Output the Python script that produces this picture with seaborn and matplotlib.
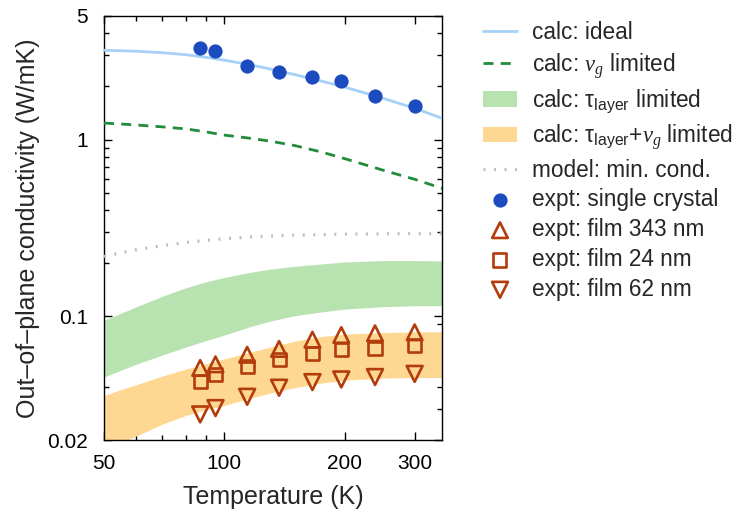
import matplotlib
matplotlib.use("Agg")
import matplotlib.pyplot as plt
import matplotlib.ticker as mticker
import seaborn as sns
import numpy as np

# ---------------- data ----------------
T_calc = [50, 55, 60, 70, 80, 90, 100, 115, 130, 150, 175, 200, 250, 300, 350]
k_ideal = [3.20, 3.18, 3.16, 3.10, 3.02, 2.92, 2.81, 2.66, 2.51, 2.33, 2.14, 1.98, 1.71, 1.50, 1.32]
k_vg = [1.24, 1.225, 1.21, 1.18, 1.15, 1.105, 1.06, 1.02, 0.98, 0.925, 0.85, 0.78, 0.67, 0.595, 0.53]
k_min = [0.218, 0.229, 0.238, 0.251, 0.262, 0.269, 0.275, 0.281, 0.285, 0.288, 0.290, 0.292, 0.293, 0.294, 0.294]
k_layer_hi = [0.095, 0.104, 0.113, 0.130, 0.145, 0.157, 0.166, 0.177, 0.185, 0.192, 0.198, 0.203, 0.207, 0.207, 0.206]
k_layer_lo = [0.0454, 0.0495, 0.0535, 0.0605, 0.067, 0.073, 0.0785, 0.087, 0.094, 0.101, 0.106, 0.110, 0.1135, 0.115, 0.115]
k_both_hi = [0.0357, 0.0385, 0.041, 0.046, 0.0503, 0.054, 0.0575, 0.0625, 0.067, 0.0725, 0.077, 0.0795, 0.081, 0.0818, 0.0818]
k_both_lo = [0.0174, 0.0192, 0.021, 0.0246, 0.0275, 0.0297, 0.0314, 0.0343, 0.0368, 0.0395, 0.0420, 0.0436, 0.0448, 0.0451, 0.0451]

T_expt = [87, 95, 114, 137, 166, 196, 238, 299]
k_crystal = [3.29, 3.15, 2.61, 2.42, 2.26, 2.14, 1.76, 1.55]
k_film343 = [0.0511, 0.0536, 0.0607, 0.0655, 0.0739, 0.0785, 0.0803, 0.0813]
k_film24 = [0.0430, 0.0471, 0.0521, 0.0570, 0.0620, 0.0649, 0.0661, 0.0683]
k_film62 = [0.0279, 0.0303, 0.0351, 0.0395, 0.0425, 0.0440, 0.0454, 0.0473]

x_ticks = [50, 100, 200, 300]
x_minor = [60, 70, 80, 90]
y_ticks = [0.02, 0.1, 1, 5]
y_tick_labels = ["0.02", "0.1", "1", "5"]

# ---------------- style ----------------
sns.set_style("ticks")
plt.rcParams["font.family"] = ["Liberation Sans", "DejaVu Sans"]
plt.rcParams["mathtext.fontset"] = "custom"
plt.rcParams["mathtext.rm"] = "Liberation Sans"
plt.rcParams["mathtext.it"] = "Liberation Serif:italic"
plt.rcParams["mathtext.bf"] = "Liberation Sans:bold"

c_ideal = "#a6d0f7"
c_vg = "#218c3c"
c_layer = "#b8e2b0"
c_both = "#fed893"
c_min = "#bdbdbd"
c_crys = "#1c4abf"
c_film = "#b23c0a"

fig = plt.figure(figsize=(7.42, 5.16), dpi=100)
ax = fig.add_axes([104 / 742, 76 / 516, 338 / 742, 424 / 516])

ax.fill_between(T_calc, k_layer_lo, k_layer_hi, color=c_layer, lw=0,
                label=r"calc: τ$_{\mathrm{layer}}$ limited", zorder=1)
ax.fill_between(T_calc, k_both_lo, k_both_hi, color=c_both, lw=0,
                label=r"calc: τ$_{\mathrm{layer}}$+$v_g$ limited", zorder=1)

sns.lineplot(x=T_calc, y=k_ideal, ax=ax, color=c_ideal, lw=2.0,
             label="calc: ideal", zorder=3)
sns.lineplot(x=T_calc, y=k_vg, ax=ax, color=c_vg, lw=2.0,
             linestyle=(0, (3.6, 2.6)), label=r"calc: $v_g$ limited", zorder=3)
sns.lineplot(x=T_calc, y=k_min, ax=ax, color=c_min, lw=2.3,
             linestyle=(0, (0.6, 2.7)), label="model: min. cond.", zorder=3)

sns.scatterplot(x=T_expt, y=k_crystal, ax=ax, color=c_crys, s=105,
                linewidth=0, marker="o", label="expt: single crystal", zorder=5)
sns.scatterplot(x=T_expt, y=k_film343, ax=ax, marker="^", s=125,
                facecolor="none", edgecolor=c_film, linewidth=1.9,
                label="expt: film 343 nm", zorder=5)
sns.scatterplot(x=T_expt, y=k_film24, ax=ax, marker="s", s=88,
                facecolor="none", edgecolor=c_film, linewidth=1.9,
                label="expt: film 24 nm", zorder=5)
sns.scatterplot(x=T_expt, y=k_film62, ax=ax, marker="v", s=130,
                facecolor="none", edgecolor=c_film, linewidth=1.9,
                label="expt: film 62 nm", zorder=5)

ax.set_xscale("log")
ax.set_yscale("log")
ax.set_xlim(50, 350)
ax.set_ylim(0.02, 5)

ax.xaxis.set_major_locator(mticker.FixedLocator(x_ticks))
ax.xaxis.set_minor_locator(mticker.FixedLocator(x_minor))
ax.xaxis.set_major_formatter(mticker.FixedFormatter([str(v) for v in x_ticks]))
ax.xaxis.set_minor_formatter(mticker.NullFormatter())
ax.yaxis.set_major_locator(mticker.FixedLocator(y_ticks))
ax.yaxis.set_major_formatter(mticker.FixedFormatter(y_tick_labels))
ax.yaxis.set_minor_locator(mticker.LogLocator(base=10, subs=np.arange(2, 10)))
ax.yaxis.set_minor_formatter(mticker.NullFormatter())

ax.tick_params(which="both", direction="in", top=True, right=True,
               labelsize=15, colors="black", width=1.0)
ax.tick_params(which="major", length=6)
ax.tick_params(which="minor", length=3.5)
ax.tick_params(axis="x", which="major", pad=10)
ax.tick_params(axis="y", which="major", pad=11.5)
for sp in ax.spines.values():
    sp.set_linewidth(1.0)
    sp.set_color("black")
    sp.set_visible(True)

ax.set_xlabel("Temperature (K)", fontsize=18, labelpad=9)
ax.set_ylabel("Out–of–plane conductivity (W/mK)", fontsize=18, labelpad=5)

handles, labels = ax.get_legend_handles_labels()
order = ["calc: ideal", r"calc: $v_g$ limited",
         r"calc: τ$_{\mathrm{layer}}$ limited",
         r"calc: τ$_{\mathrm{layer}}$+$v_g$ limited",
         "model: min. cond.", "expt: single crystal",
         "expt: film 343 nm", "expt: film 24 nm", "expt: film 62 nm"]
hmap = dict(zip(labels, handles))
if ax.legend_ is not None:
    ax.legend_.remove()
fig.legend([hmap[l] for l in order], order, loc="upper left",
           bbox_to_anchor=(483 / 742, 1 - 21 / 516), frameon=False,
           fontsize=16.3, handlelength=1.5, handletextpad=0.66,
           labelspacing=0.3, borderaxespad=0, borderpad=0)

fig.savefig("out.png", dpi=100)
